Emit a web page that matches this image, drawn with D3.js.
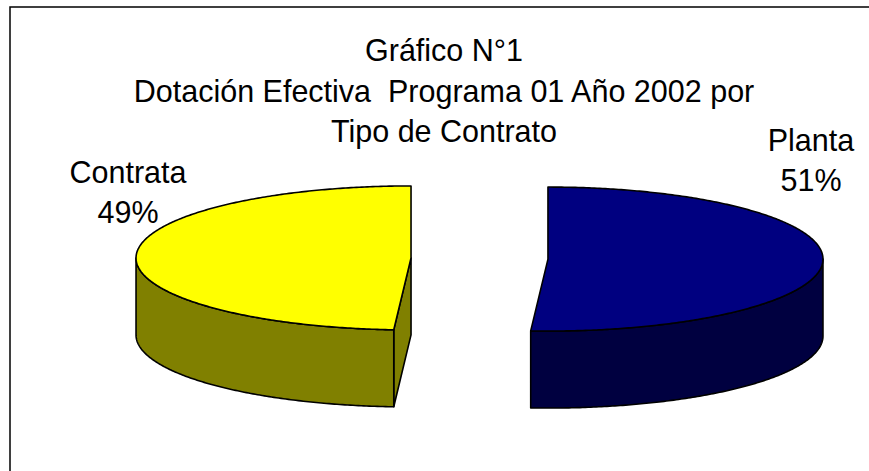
<!DOCTYPE html>
<html>
<head>
<meta charset="utf-8">
<script src="https://cdn.jsdelivr.net/npm/d3@7"></script>
<style>
  html, body { margin: 0; padding: 0; background: #fff; }
  svg { display: block; }
  text { font-family: "Liberation Sans", Arial, sans-serif; fill: #000; }
</style>
</head>
<body>
<svg id="chart" width="869" height="471"></svg>
<script>
// chart data
const categories = ["Planta", "Contrata"];
const values = [51, 49];
const topColors = ["#000080", "#FFFF00"];
const sideColors = ["#000040", "#808000"];
const titleLines = ["Gráfico N°1", "Dotación Efectiva  Programa 01 Año 2002 por", "Tipo de Contrato"];

// layout
const size = { w: 869, h: 471 };
const cx = 479.5, cy = 258.5;     // pie centre before explosion
const rx = 275, ry = 72, depth = 77;
const explode = 68.5;
const fontSize = 30.5;
const labelPos = { "Planta": [811, 150.7], "Contrata": [128, 182.7] };

const svg = d3.select("#chart");

// frame (only left and top edges fall inside the picture)
svg.append("rect")
    .attr("x", 10).attr("y", 7)
    .attr("width", 900).attr("height", 500)
    .attr("fill", "none")
    .attr("stroke", "#000")
    .attr("stroke-width", 1.5);

// title
svg.append("text")
    .attr("text-anchor", "middle")
    .style("font-size", fontSize + "px")
    .style("white-space", "pre")
    .selectAll("tspan")
    .data(titleLines)
    .join("tspan")
    .attr("x", 444)
    .attr("y", (d, i) => 61 + i * 40.5)
    .text(d => d);

// pie angles
const total = d3.sum(values);
const arcs = d3.pie()
    .sort(null)
    .startAngle(0)
    .endAngle(2 * Math.PI)(values);

// project an angle (clockwise from 12 o'clock) onto the tilted ellipse
function pt(theta, ox, oy, dz) {
    return [ox + rx * Math.sin(theta), oy - ry * Math.cos(theta) + dz];
}
function arcPoints(a0, a1, ox, oy, dz) {
    const n = Math.max(2, Math.ceil(Math.abs(a1 - a0) / 0.01));
    return d3.range(n + 1).map(k => pt(a0 + (a1 - a0) * k / n, ox, oy, dz));
}

const line = d3.line();

const slice = svg.selectAll("g.slice")
    .data(arcs)
    .join("g")
    .classed("slice", true)
    .each(function(d, i) {
        const g = d3.select(this);
        const mid = (d.startAngle + d.endAngle) / 2;
        const ox = cx + explode * Math.sin(mid);
        const oy = cy - explode * (ry / rx) * Math.cos(mid);

        const style = (sel, fill) => sel
            .attr("fill", fill)
            .attr("stroke", "#000")
            .attr("stroke-width", 1.6)
            .attr("stroke-linejoin", "round");

        // cut faces facing the viewer
        const cuts = [];
        if (Math.sin(d.startAngle) < -1e-6) cuts.push(d.startAngle);
        if (Math.sin(d.endAngle) > 1e-6) cuts.push(d.endAngle);
        cuts.forEach(a => {
            const p = pt(a, ox, oy, 0);
            g.append("path")
                .attr("d", line([[ox, oy], p, [p[0], p[1] + depth], [ox, oy + depth]]) + "Z")
                .call(style, sideColors[i]);
        });

        // front part of the outer wall
        const s = Math.max(d.startAngle, Math.PI / 2);
        const e = Math.min(d.endAngle, 3 * Math.PI / 2);
        if (e > s) {
            const pts = arcPoints(s, e, ox, oy, 0).concat(arcPoints(e, s, ox, oy, depth));
            g.append("path")
                .attr("d", line(pts) + "Z")
                .call(style, sideColors[i]);
        }

        // top face
        const topPts = [[ox, oy]].concat(arcPoints(d.startAngle, d.endAngle, ox, oy, 0));
        g.append("path")
            .attr("d", line(topPts) + "Z")
            .call(style, topColors[i]);
    });

// data labels
const pct = d3.format(".0%");
svg.selectAll("text.label")
    .data(arcs)
    .join("text")
    .classed("label", true)
    .attr("text-anchor", "middle")
    .style("font-size", fontSize + "px")
    .each(function(d, i) {
        const [x, y] = labelPos[categories[i]];
        d3.select(this).selectAll("tspan")
            .data([categories[i], pct(d.value / total)])
            .join("tspan")
            .attr("x", x)
            .attr("y", (t, k) => y + k * 40.7)
            .text(t => t);
    });
</script>
</body>
</html>
